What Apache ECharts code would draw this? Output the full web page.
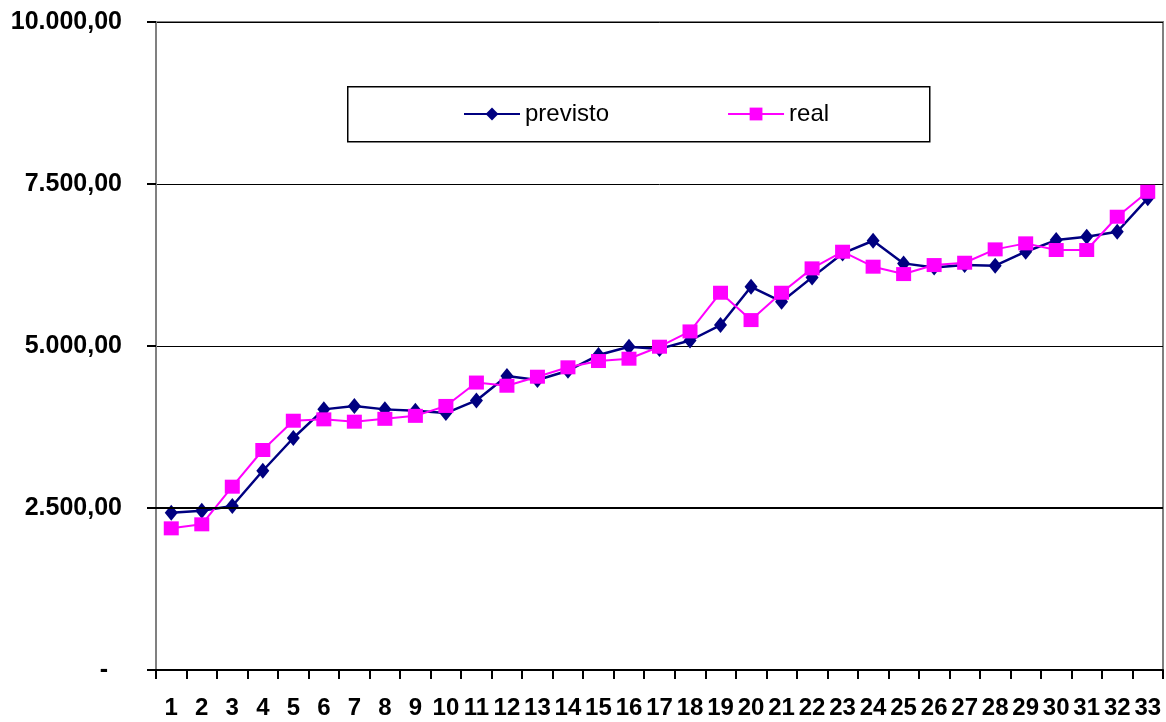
<!DOCTYPE html>
<html>
<head>
<meta charset="utf-8">
<script src="https://cdn.jsdelivr.net/npm/echarts@6/dist/echarts.min.js"></script>
<style>html,body{margin:0;padding:0;background:#fff}#c{width:1166px;height:722px}</style>
</head>
<body>
<div id="c"></div>
<script>
const categories = ['1','2','3','4','5','6','7','8','9','10','11','12','13','14','15','16','17','18','19','20','21','22','23','24','25','26','27','28','29','30','31','32','33'];
const previsto = [2427,2458,2530,3075,3580,4022,4073,4022,4001,3965,4160,4536,4475,4619,4860,4989,4955,5085,5323,5914,5683,6059,6429,6624,6275,6213,6249,6239,6455,6635,6686,6763,7279];
const real = [2186,2248,2829,3395,3847,3868,3832,3876,3922,4075,4436,4387,4526,4671,4768,4804,4989,5225,5822,5400,5822,6198,6455,6224,6110,6249,6285,6491,6584,6481,6481,6995,7380];
const yTicks = {min: 0, max: 10000, interval: 2500};

function fmt(v) {
  if (v === 0) return '-  ';
  const s = v.toFixed(2).split('.');
  return s[0].replace(/\B(?=(\d{3})+(?!\d))/g, '.') + ',' + s[1];
}

const chart = echarts.init(document.getElementById('c'));
chart.setOption({
  animation: false,
  backgroundColor: '#fff',
  grid: {left: 156, right: 3, top: 22, bottom: 52, show: true, borderColor: '#808080', borderWidth: 2, backgroundColor: 'transparent'},
  graphic: [{
    type: 'rect', left: 347, top: 86, z: 0,
    shape: {width: 582, height: 55},
    style: {fill: '#fff', stroke: '#000', lineWidth: 1.5}
  }],
  legend: {
    left: 463, top: 102, padding: 0, itemWidth: 56, itemHeight: 16, itemGap: 118,
    data: ['previsto', 'real'],
    textStyle: {fontFamily: 'Liberation Sans', fontSize: 24, color: '#000'},
    z: 5
  },
  xAxis: {
    type: 'category', data: categories, boundaryGap: true,
    axisLine: {lineStyle: {color: '#000', width: 2}},
    axisTick: {show: true, interval: 0, length: 9, lineStyle: {color: '#000', width: 2}},
    axisLabel: {interval: 0, margin: 26, fontFamily: 'Liberation Sans', fontWeight: 'bold', fontSize: 24, color: '#000'},
    splitLine: {show: false}
  },
  yAxis: {
    type: 'value', min: yTicks.min, max: yTicks.max, interval: yTicks.interval,
    axisLine: {show: true, lineStyle: {color: '#808080', width: 2}},
    axisTick: {show: true, length: 9, lineStyle: {color: '#000', width: 2}},
    axisLabel: {margin: 34, formatter: fmt, fontFamily: 'Liberation Sans', fontWeight: 'bold', fontSize: 25, color: '#000'},
    splitLine: {show: true, lineStyle: {color: '#000', width: 1}}
  },
  series: [
    {
      name: 'previsto', type: 'line', data: previsto,
      symbol: 'diamond', symbolSize: [13, 16], showAllSymbol: true,
      lineStyle: {color: '#000080', width: 2.5},
      itemStyle: {color: '#000080'}, z: 3,
      markLine: {
        silent: true, symbol: 'none', label: {show: false},
        lineStyle: {color: '#000', width: 2, type: 'solid'},
        data: [{yAxis: yTicks.interval}]
      }
    },
    {
      name: 'real', type: 'line', data: real,
      symbol: 'rect', symbolSize: [15, 14], showAllSymbol: true,
      lineStyle: {color: '#FF00FF', width: 2},
      itemStyle: {color: '#FF00FF'}, z: 4
    }
  ]
});
</script>
</body>
</html>
